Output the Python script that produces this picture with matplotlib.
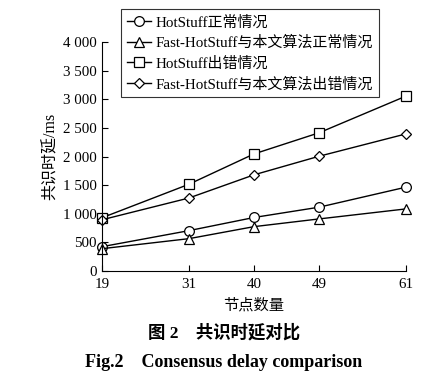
import matplotlib.pyplot as plt

plt.rcParams['font.family'] = ['Liberation Serif', 'Noto Sans CJK SC']
plt.rcParams['axes.unicode_minus'] = False

# 数据
nodes = [19, 31, 40, 49, 61]
hs_normal = [425, 705, 935, 1115, 1465]
fast_normal = [390, 565, 775, 910, 1085]
hs_error = [930, 1515, 2045, 2415, 3055]
fast_error = [895, 1275, 1680, 2005, 2395]

labels = ['HotStuff正常情况', 'Fast-HotStuff与本文算法正常情况',
          'HotStuff出错情况', 'Fast-HotStuff与本文算法出错情况']
yticks = [0, 500, 1000, 1500, 2000, 2500, 3000, 3500, 4000]
ytick_labels = ['0', '500', '1 000', '1 500', '2 000', '2 500', '3 000', '3 500', '4 000']

fig = plt.figure(figsize=(4.46, 3.89), dpi=100)
ax = fig.add_axes([0.2287, 0.3033, 0.6816, 0.5887])

series = [(hs_normal, 'o'), (fast_normal, '^'), (hs_error, 's'), (fast_error, 'D')]
for (vals, m), lab in zip(series, labels):
    ms = 5.5 if m == 'D' else 7
    ax.plot(nodes, vals, color='black', linewidth=1, marker=m, markersize=ms,
            markerfacecolor='white', markeredgecolor='black', markeredgewidth=0.9,
            label=lab, clip_on=False)

ax.set_xlim(19, 61)
ax.set_ylim(0, 4000)
ax.set_xticks(nodes)
ax.set_yticks(yticks)
ax.set_yticklabels(ytick_labels)
ax.tick_params(direction='in', length=4, width=0.8, labelsize=10.8, colors='black')
ax.tick_params(axis='x', pad=5)
ax.tick_params(axis='y', pad=4)
for s in ['top', 'right']:
    ax.spines[s].set_visible(False)
for s in ['left', 'bottom']:
    ax.spines[s].set_linewidth(0.8)

ax.set_ylabel('共识时延/ms', fontsize=11.5, labelpad=3)
ax.set_xlabel('节点数量', fontsize=11, labelpad=5)

leg = ax.legend(loc='upper left', bbox_to_anchor=(0.0625, 1.144), borderaxespad=0,
                fontsize=10.8, frameon=True, fancybox=False, edgecolor='black',
                handlelength=1.6, handletextpad=0.3, labelspacing=0.42,
                borderpad=0.4)
leg.get_frame().set_linewidth(0.8)

fig.text(0.502, 0.144, '图 2　共识时延对比', ha='center', va='center',
         fontsize=12.5, fontweight='bold')
fig.text(0.502, 0.069, 'Fig.2    Consensus delay comparison', ha='center', va='center',
         fontsize=13, fontweight='bold')

plt.savefig('out.png', dpi=100)
